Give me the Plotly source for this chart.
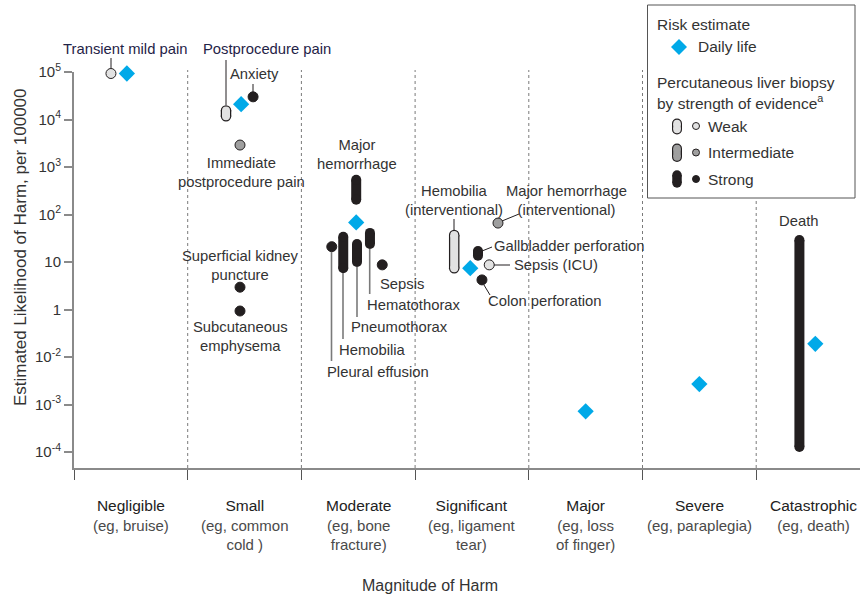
import math
import plotly.graph_objects as go

# ---------------- data ----------------
categories = ["Negligible", "Small", "Moderate", "Significant", "Major", "Severe", "Catastrophic"]
examples = ["(eg, bruise)", "(eg, common<br>cold )", "(eg, bone<br>fracture)", "(eg, ligament<br>tear)",
            "(eg, loss<br>of finger)", "(eg, paraplegia)", "(eg, death)"]

# Risk estimate: daily life (one per category), value on the axis scale
daily_cat = [0, 1, 2, 3, 4, 5, 6]
daily_val = [93000, 21000, 68, 7.4, 0.0072, 0.027, 0.19]

# Percutaneous liver biopsy - point estimates
pt_names = ["Transient mild pain", "Anxiety", "Immediate postprocedure pain", "Superficial kidney puncture",
            "Subcutaneous emphysema", "Pleural effusion", "Sepsis", "Major hemorrhage (interventional)",
            "Sepsis (ICU)", "Colon perforation"]
pt_cat = [0, 1, 1, 1, 1, 2, 2, 3, 3, 3]
pt_val = [93000, 30000, 2900, 2.95, 0.93, 21, 8.7, 66, 8.7, 4.2]
pt_evid = ["Weak", "Strong", "Intermediate", "Strong", "Strong", "Strong", "Strong", "Intermediate", "Weak", "Strong"]

# Percutaneous liver biopsy - ranges
rg_names = ["Postprocedure pain", "Major hemorrhage", "Hemobilia", "Pneumothorax", "Hematothorax",
            "Hemobilia (interventional)", "Gallbladder perforation", "Death"]
rg_cat = [1, 2, 2, 2, 2, 3, 3, 6]
rg_low = [11700, 205, 7.4, 10, 24, 7.4, 13.6, 0.00127]
rg_high = [15500, 540, 34, 24, 41, 37, 17, 29]
rg_evid = ["Weak", "Strong", "Strong", "Strong", "Strong", "Weak", "Strong", "Strong"]

ytick_vals = [1e5, 1e4, 1e3, 1e2, 10, 1, 0.1, 0.01, 0.001]
ytick_text = ["10<sup>5</sup>", "10<sup>4</sup>", "10<sup>3</sup>", "10<sup>2</sup>", "10", "1",
              "10<sup>-2</sup>", "10<sup>-3</sup>", "10<sup>-4</sup>"]

# ---------------- layout / positions ----------------
REF_L, REF_T, REF_R, REF_B = 74, 72, 860, 468   # plot area in page pixels
W, H = 860, 596
ML, MT = REF_L, REF_T
MR, MB = W - REF_R, H - REF_B
PW, PH = REF_R - REF_L, REF_B - REF_T
CAT_PX = 113.7
XMAX = PW / CAT_PX
YMIN_LOG = 5 - PH / 47.5

daily_off = [-0.035, -0.03, -0.018, -0.015, 0.0, 0.0, 0.02]
pt_off = [-0.175, 0.075, -0.04, -0.04, -0.04, -0.233, 0.211, 0.229, 0.152, 0.088]
rg_off = [-0.163, -0.018, -0.132, -0.011, 0.103, -0.156, 0.053, -0.12]

BLUE = "#00a9e8"
STRONG = "#231f20"
FILL = {"Weak": "#e2e2e2", "Intermediate": "#9f9f9f", "Strong": STRONG}
TEXT = "#333333"
NAVY = "#1f2347"
AXIS = "#8a8a8a"
FONT = "Liberation Sans, Arial, sans-serif"
LBL = 14.8


def px_x(p):
    return (p - REF_L) / PW


def px_y(p):
    return (REF_B - p) / PH


fig = go.Figure()


def capsule(x, lo, hi, evid, w=10, xa="x", ya="y"):
    if evid == "Strong":
        fig.add_trace(go.Scatter(x=[x, x], y=[lo, hi], mode="lines+markers", xaxis=xa, yaxis=ya,
                                 line=dict(color=STRONG, width=w), marker=dict(size=w, color=STRONG),
                                 cliponaxis=False, hoverinfo="skip", showlegend=False))
    else:
        fig.add_trace(go.Scatter(x=[x, x], y=[lo, hi], mode="lines+markers", xaxis=xa, yaxis=ya,
                                 line=dict(color=STRONG, width=w + 0.5), marker=dict(size=w + 0.5, color=STRONG),
                                 cliponaxis=False, hoverinfo="skip", showlegend=False))
        fig.add_trace(go.Scatter(x=[x, x], y=[lo, hi], mode="lines+markers", xaxis=xa, yaxis=ya,
                                 line=dict(color=FILL[evid], width=w - 2), marker=dict(size=w - 2, color=FILL[evid]),
                                 cliponaxis=False, hoverinfo="skip", showlegend=False))


# ranges
for c, lo, hi, ev, off in zip(rg_cat, rg_low, rg_high, rg_evid, rg_off):
    capsule(c + 0.5 + off, lo, hi, ev)

# point estimates
for ev in ["Weak", "Intermediate", "Strong"]:
    idx = [i for i, e in enumerate(pt_evid) if e == ev]
    fig.add_trace(go.Scatter(
        x=[pt_cat[i] + 0.5 + pt_off[i] for i in idx], y=[pt_val[i] for i in idx], mode="markers",
        marker=dict(size=10, color=FILL[ev], line=dict(color=STRONG, width=1)),
        cliponaxis=False, hoverinfo="skip", showlegend=False))

# daily life diamonds
fig.add_trace(go.Scatter(
    x=[c + 0.5 + o for c, o in zip(daily_cat, daily_off)], y=daily_val, mode="markers",
    marker=dict(symbol="diamond", size=12.5, color=BLUE), cliponaxis=False, hoverinfo="skip", showlegend=False))

# ---------------- legend (pixel overlay axes) ----------------
leg_rows = [("Weak", 123.5, 129.5, 126), ("Intermediate", 148.5, 157, 152.5), ("Strong", 175, 183, 179)]
for ev, a, b, cy in leg_rows:
    capsule(677, a, b, ev, w=9.5, xa="x2", ya="y2")
    fig.add_trace(go.Scatter(x=[696], y=[cy], xaxis="x2", yaxis="y2", mode="markers",
                             marker=dict(size=7, color=FILL[ev], line=dict(color=STRONG, width=1)),
                             cliponaxis=False, hoverinfo="skip", showlegend=False))

shapes = []
# dotted separators
for i in range(1, 7):
    shapes.append(dict(type="line", xref="x", yref="paper", x0=i, x1=i, y0=0, y1=1.005,
                       line=dict(color="#7a7a7a", width=1, dash="dot"), layer="below"))
# legend box (white fill hides separator)
shapes.append(dict(type="rect", xref="paper", yref="paper", x0=px_x(647.5), x1=px_x(855), y0=px_y(198),
                   y1=px_y(5), line=dict(color="#555555", width=1), fillcolor="white", layer="below"))
# legend diamond
dcx, dcy, dr = 679, 47, 8
shapes.append(dict(type="path", xref="paper", yref="paper", line=dict(width=0), fillcolor=BLUE,
                   path="M {} {} L {} {} L {} {} L {} {} Z".format(
                       px_x(dcx), px_y(dcy - dr), px_x(dcx + dr), px_y(dcy), px_x(dcx), px_y(dcy + dr),
                       px_x(dcx - dr), px_y(dcy))))

# leader lines (pixel positions)
leaders = [
    ((111, 58), (111, 68), STRONG, 1),
    ((226, 60), (226, 105), STRONG, 1),
    ((253, 84), (253, 92), STRONG, 1),
    ((331.5, 252), (331.5, 361), "#7a7a7a", 1.6),
    ((343, 273), (343, 339), "#7a7a7a", 1.6),
    ((357, 267), (357, 317), "#7a7a7a", 1.6),
    ((369.7, 249), (369.7, 294), "#7a7a7a", 1.6),
    ((454, 219), (454, 230), STRONG, 1),
    ((502, 221), (519, 214), STRONG, 1),
    ((482, 251), (492, 247), STRONG, 1),
    ((494, 265), (510, 265), STRONG, 1),
    ((484, 285), (490, 295), STRONG, 1),
]
for (x0, y0), (x1, y1), col, lw in leaders:
    shapes.append(dict(type="line", xref="paper", yref="paper", x0=px_x(x0), y0=px_y(y0), x1=px_x(x1),
                       y1=px_y(y1), line=dict(color=col, width=lw), layer="above"))

# ---------------- text ----------------
annos = []


def label(text, x, y, anchor="center", size=LBL, color=TEXT):
    annos.append(dict(text=text, x=px_x(x), y=px_y(y), xref="paper", yref="paper", showarrow=False,
                      xanchor=anchor, yanchor="middle", align=anchor if anchor != "center" else "center",
                      font=dict(size=size, color=color, family=FONT)))


label("Transient mild pain", 125, 49, color=NAVY)
label("Postprocedure pain", 266.5, 49, color=NAVY)
label("Anxiety", 254, 74)
label("Immediate<br>postprocedure pain", 241, 172)
label("Superficial kidney<br>puncture", 240, 265)
label("Subcutaneous<br>emphysema", 240, 336)
label("Major<br>hemorrhage", 357, 154)
label("Sepsis", 378, 284, anchor="left")
label("Hematothorax", 365, 305, anchor="left")
label("Pneumothorax", 349, 327, anchor="left")
label("Hemobilia", 337, 350, anchor="left")
label("Pleural effusion", 325, 372, anchor="left")
label("Hemobilia<br>(interventional)", 454, 200.5)
label("Major hemorrhage<br>(interventional)", 566, 200.5)
label("Gallbladder perforation", 492, 246, anchor="left")
label("Sepsis (ICU)", 512, 265, anchor="left")
label("Colon perforation", 486, 301, anchor="left")
label("Death", 799, 221)

# legend text
LEG = 15.5
label("Risk estimate", 655, 24, anchor="left", size=LEG)
label("Daily life", 696, 47, anchor="left", size=LEG)
label("Percutaneous liver biopsy", 655, 82, anchor="left", size=LEG)
label("by strength of evidence<sup>a</sup>", 655, 102, anchor="left", size=LEG)
label("Weak", 706, 126, anchor="left", size=LEG)
label("Intermediate", 706, 152.5, anchor="left", size=LEG)
label("Strong", 706, 179, anchor="left", size=LEG)

# category labels under axis
for i, (c, e) in enumerate(zip(categories, examples)):
    last = i == len(categories) - 1
    annos.append(dict(text="<span style='color:#222222;font-size:15.5px'>" + c + "</span><br>" + e,
                      x=px_x(859) if last else i + 0.5, xref="paper" if last else "x",
                      y=px_y(495), yref="paper", showarrow=False,
                      xanchor="right" if last else "center", yanchor="top", align="center",
                      font=dict(size=15, color="#4a4a4a", family=FONT)))

annos.append(dict(text="Magnitude of Harm", x=px_x(430), y=px_y(585), xref="paper", yref="paper",
                  showarrow=False, xanchor="center", yanchor="middle", font=dict(size=16, color=TEXT, family=FONT)))
annos.append(dict(text="Estimated Likelihood of Harm, per 100000", x=px_x(20), y=px_y(247), xref="paper",
                  yref="paper", showarrow=False, textangle=-90, xanchor="center", yanchor="middle",
                  font=dict(size=17, color=TEXT, family=FONT)))

fig.update_layout(
    width=W, height=H, margin=dict(l=ML, r=MR, t=MT, b=MB, pad=0),
    paper_bgcolor="white", plot_bgcolor="white",
    font=dict(family=FONT, color=TEXT),
    showlegend=False, shapes=shapes, annotations=annos,
    xaxis=dict(range=[0, XMAX], showgrid=False, zeroline=False, showline=True, linecolor=AXIS, linewidth=2,
               tickvals=list(range(0, 7)), ticks="outside", ticklen=10, tickwidth=1, tickcolor="#555555",
               showticklabels=False, fixedrange=True),
    yaxis=dict(type="log", range=[YMIN_LOG, 5], showgrid=False, zeroline=False, showline=True, linecolor=AXIS,
               linewidth=2, tickvals=ytick_vals, ticktext=ytick_text, ticks="outside", ticklen=8, tickwidth=1.5,
               tickcolor=AXIS, tickfont=dict(size=15, color=TEXT, family=FONT), fixedrange=True),
    xaxis2=dict(range=[REF_L, REF_R], overlaying="x", visible=False, fixedrange=True),
    yaxis2=dict(range=[REF_B, REF_T], overlaying="y", visible=False, fixedrange=True),
)

fig.write_html("out.html", config={"displayModeBar": False},
               post_script="document.body.style.margin='0';document.body.style.overflow='hidden';")
